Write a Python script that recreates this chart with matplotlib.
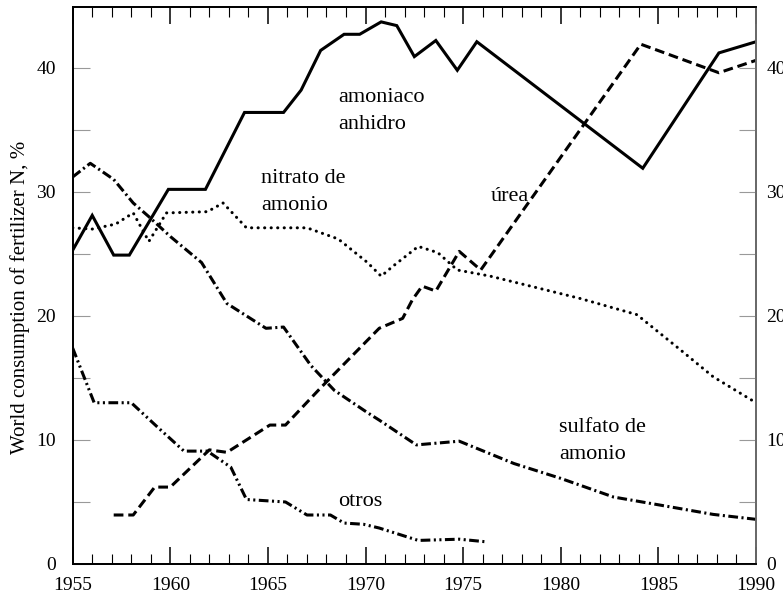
import numpy as np
import matplotlib
matplotlib.use('Agg')
import matplotlib.pyplot as plt

plt.rcParams['font.family'] = ['Liberation Serif', 'DejaVu Serif']
plt.rcParams['lines.scale_dashes'] = False

# amoniaco anhidro (solid)
amoniaco_x = [1955, 1956, 1957.1, 1957.9, 1959.9, 1961.8, 1963.8, 1965.8, 1966.7, 1967.7,
              1968.9, 1969.7, 1970.8, 1971.6, 1972.5, 1973.6, 1974.7, 1975.7, 1984.2, 1988.1, 1990]
amoniaco_y = [25.3, 28.1, 24.9, 24.9, 30.2, 30.2, 36.4, 36.4, 38.2, 41.4,
              42.7, 42.7, 43.7, 43.4, 40.9, 42.2, 39.8, 42.1, 31.9, 41.2, 42.1]

# nitrato de amonio (dotted)
nitrato_x = [1955, 1956, 1957.2, 1958.1, 1958.9, 1959.8, 1961.9, 1962.7, 1963.9, 1967,
             1968.6, 1970.1, 1970.8, 1971.4, 1972.7, 1973.7, 1974.7, 1976.4, 1981, 1983.9,
             1986.1, 1987.8, 1990]
nitrato_y = [27.1, 27.0, 27.4, 28.3, 26.0, 28.3, 28.4, 29.1, 27.1, 27.1,
             26.2, 24.3, 23.2, 24.0, 25.6, 25.1, 23.7, 23.2, 21.4, 20.1,
             17.3, 15.1, 13.0]

# urea (dashed)
urea_x = [1957.1, 1958.1, 1959.2, 1960, 1962, 1962.9, 1965.1, 1965.9, 1967.7, 1970.7,
          1971.9, 1972.4, 1972.9, 1973.6, 1974.8, 1975.9, 1984.1, 1988.1, 1990]
urea_y = [3.95, 3.95, 6.2, 6.2, 9.2, 9.0, 11.2, 11.2, 14.2, 19.0,
          19.8, 21.3, 22.4, 22.0, 25.2, 23.7, 41.9, 39.6, 40.6]

# sulfato de amonio (dash-dot)
sulfato_x = [1955, 1955.9, 1957.1, 1958.1, 1958.9, 1960, 1961.6, 1962.7, 1962.9, 1964.9,
             1965.8, 1967.2, 1968.4, 1970.1, 1970.7, 1972.6, 1974.8, 1977.6, 1980, 1982.7,
             1984.9, 1987.8, 1990]
sulfato_y = [31.2, 32.3, 31.0, 29.1, 28.0, 26.4, 24.3, 21.5, 21.0, 19.0,
             19.1, 16.0, 14.0, 12.2, 11.6, 9.6, 9.9, 8.1, 6.9, 5.4,
             4.8, 4.0, 3.6]

# otros (dash-dot-dot)
otros_x = [1955, 1956.1, 1958, 1959.3, 1960.7, 1961.9, 1963.1, 1963.9, 1965.9, 1967,
           1968.2, 1968.9, 1969.9, 1970.7, 1972.7, 1974.8, 1976.1]
otros_y = [17.4, 13.0, 13.0, 11.1, 9.1, 9.1, 7.8, 5.2, 5.0, 3.95,
           3.95, 3.3, 3.2, 2.9, 1.9, 2.0, 1.8]

yticks = [0, 10, 20, 30, 40]
yminor = [5, 15, 25, 35]

fig = plt.figure(figsize=(7.83, 5.95), dpi=100)
ax = fig.add_axes([72.7 / 783, 1 - 564 / 595, (756 - 72.7) / 783, (564 - 7) / 595])

lw = 2.2
ax.plot(amoniaco_x, amoniaco_y, color='black', lw=lw, solid_joinstyle='miter')
ax.plot(nitrato_x, nitrato_y, color='black', lw=lw, linestyle=(0, (0.1, 4.6)),
        dash_capstyle='round')
ax.plot(urea_x, urea_y, color='black', lw=lw, linestyle=(0, (7, 3.5)))
ax.plot(sulfato_x, sulfato_y, color='black', lw=lw, linestyle=(0, (7, 2.5, 1.5, 2.5)))
ax.plot(otros_x, otros_y, color='black', lw=lw,
        linestyle=(0, (7, 2.5, 1.5, 2.5, 1.5, 2.5)))

ax.set_xlim(1955, 1990)
ax.set_ylim(0, 44.9)
ax.set_xticks(np.arange(1955, 1991, 5))
ax.set_xticks(np.arange(1955, 1991, 1), minor=True)
ax.set_yticks(yticks)
ax.set_yticks(yminor, minor=True)

ax.tick_params(axis='x', which='both', direction='in', top=True, bottom=True,
               labelsize=14, pad=9, color='black')
ax.tick_params(axis='x', which='major', length=12, width=1.1)
ax.tick_params(axis='x', which='minor', length=7.5, width=0.8)
ax.tick_params(axis='y', which='both', direction='in', left=True, right=False,
               labelsize=14, pad=12, color='#999999', length=12, width=0.8)

# right-hand scale, same values
ax2 = ax.twinx()
ax2.set_ylim(ax.get_ylim())
ax2.set_yticks(yticks)
ax2.set_yticks(yminor, minor=True)
ax2.tick_params(axis='y', which='both', direction='in', labelsize=14, pad=7.5,
                color='#999999', length=12, width=0.8)

for a in [ax, ax2]:
    for side in ['left', 'bottom', 'top']:
        a.spines[side].set_linewidth(1.3)
    a.spines['right'].set_color('#666666')
    a.spines['right'].set_linewidth(1.2)

ax.set_ylabel('World consumption of fertilizer N, %', fontsize=15)
ax.yaxis.set_label_coords(-0.062, 0.478)

fs = 16
ax.text(1968.6, 36.5, 'amoniaco\nanhidro', fontsize=fs, va='center', linespacing=1.55)
ax.text(1964.65, 30.0, 'nitrato de\namonio', fontsize=fs, va='center', linespacing=1.55)
ax.text(1976.4, 29.6, 'úrea', fontsize=fs, va='center')
ax.text(1979.9, 9.9, 'sulfato de\namonio', fontsize=fs, va='center', linespacing=1.55)
ax.text(1968.6, 5.0, 'otros', fontsize=fs, va='center')

fig.savefig('out.png', dpi=100)
